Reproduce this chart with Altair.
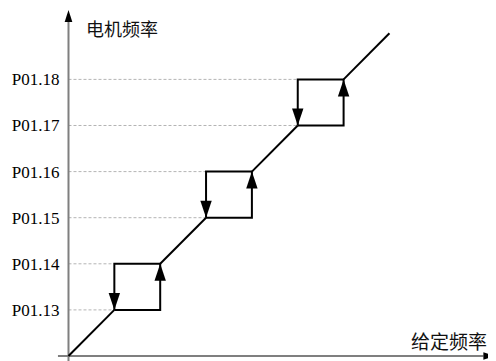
import altair as alt
import pandas as pd

# ---- data (abstract units: 1 = one hysteresis step) ----
diag_start = [0, 2, 4, 6]          # diagonal segments start (x == y)
diag_end = [1, 3, 5, 7]            # diagonal segments end
loop_lo = [1, 3, 5]                # lower-left corner of each hysteresis loop
loop_hi = [2, 4, 6]                # upper-right corner of each loop
levels = [1, 2, 3, 4, 5, 6]
level_labels = ["P01.13", "P01.14", "P01.15", "P01.16", "P01.17", "P01.18"]
grid_end = [1, 1, 3, 3, 5, 5]
y_title = "电机频率"
x_title = "给定频率"

# axis extents in data units
x_axis_from, x_axis_to, x_arrow_tip = -0.23, 9.05, 9.31
y_axis_from, y_axis_to, y_arrow_tip = -0.11, 7.245, 7.505

xs = alt.Scale(domain=[-1.3195, 9.1494], nice=False, zero=False)
ys = alt.Scale(domain=[-0.1085, 7.5488], nice=False, zero=False)
X = lambda f: alt.X(f, type="quantitative", scale=xs, axis=None)
Y = lambda f: alt.Y(f, type="quantitative", scale=ys, axis=None)

gray = "#7f7f7f"

# axes
axes_df = pd.DataFrame({
    "x": [x_axis_from, 0], "x2": [x_axis_to, 0],
    "y": [0, y_axis_from], "y2": [0, y_axis_to],
})
axes = alt.Chart(axes_df).mark_rule(color=gray, strokeWidth=2).encode(
    x=X("x"), x2="x2", y=Y("y"), y2="y2")

yarrow = alt.Chart(pd.DataFrame({"x": [0], "y": [y_arrow_tip]})).mark_point(
    shape="M0,0 L-0.32,1 L0.32,1 Z", filled=True, color="black", opacity=1, size=576
).encode(x=X("x"), y=Y("y"))
xarrow = alt.Chart(pd.DataFrame({"x": [x_arrow_tip], "y": [0]})).mark_point(
    shape="M0,0 L-1,-0.32 L-1,0.32 Z", filled=True, color="black", opacity=1, size=576
).encode(x=X("x"), y=Y("y"))

# dashed guide lines
grid_df = pd.DataFrame({"x": [0] * len(levels), "x2": grid_end, "y": levels})
grid = alt.Chart(grid_df).mark_rule(color="#b4b4b4", strokeWidth=1, strokeDash=[3, 2]).encode(
    x=X("x"), x2="x2", y=Y("y"))

# level labels
lab_df = pd.DataFrame({"x": [0] * len(levels), "y": levels, "t": level_labels})
labels = alt.Chart(lab_df).mark_text(
    align="right", baseline="middle", dx=-9, dy=1, font="Liberation Serif, serif",
    fontSize=17, color="black"
).encode(x=X("x"), y=Y("y"), text="t")

# path: diagonals and loops
rows = []
for i, (a, b) in enumerate(zip(diag_start, diag_end)):
    rows += [{"seg": f"d{i}", "o": 0, "x": a, "y": a}, {"seg": f"d{i}", "o": 1, "x": b, "y": b}]
for i, (lo, hi) in enumerate(zip(loop_lo, loop_hi)):
    pts = [(lo, lo), (hi, lo), (hi, hi), (lo, hi), (lo, lo)]
    for k, (px, py) in enumerate(pts):
        rows.append({"seg": f"l{i}", "o": k, "x": px, "y": py})
path_df = pd.DataFrame(rows)
path = alt.Chart(path_df).mark_line(color="black", strokeWidth=2, strokeJoin="miter").encode(
    x=X("x"), y=Y("y"), detail="seg", order="o")

# direction arrows on loops
down_df = pd.DataFrame({"x": loop_lo, "y": loop_lo})
up_df = pd.DataFrame({"x": loop_hi, "y": loop_hi})
down = alt.Chart(down_df).mark_point(
    shape="M0,0 L-0.335,-1 L0.335,-1 Z", filled=True, color="black", opacity=1, size=1156
).encode(x=X("x"), y=Y("y"))
up = alt.Chart(up_df).mark_point(
    shape="M0,0 L-0.335,1 L0.335,1 Z", filled=True, color="black", opacity=1, size=1156
).encode(x=X("x"), y=Y("y"))

# axis titles
t1 = alt.Chart(pd.DataFrame({"t": [y_title]})).mark_text(
    align="left", baseline="middle", font="Noto Sans CJK SC", fontSize=18, color="#111"
).encode(x=alt.value(78), y=alt.value(23), text="t")
t2 = alt.Chart(pd.DataFrame({"t": [x_title]})).mark_text(
    align="left", baseline="middle", font="Noto Sans CJK SC", fontSize=19, color="#111"
).encode(x=alt.value(403), y=alt.value(334.5), text="t")

chart = alt.layer(grid, axes, yarrow, xarrow, path, down, up, labels, t1, t2).properties(
    width=480, height=353, autosize=alt.AutoSizeParams(type="none"), padding=0
).configure_view(strokeWidth=0)

chart.save("out.html", embed_options={"renderer": "svg", "actions": False})
